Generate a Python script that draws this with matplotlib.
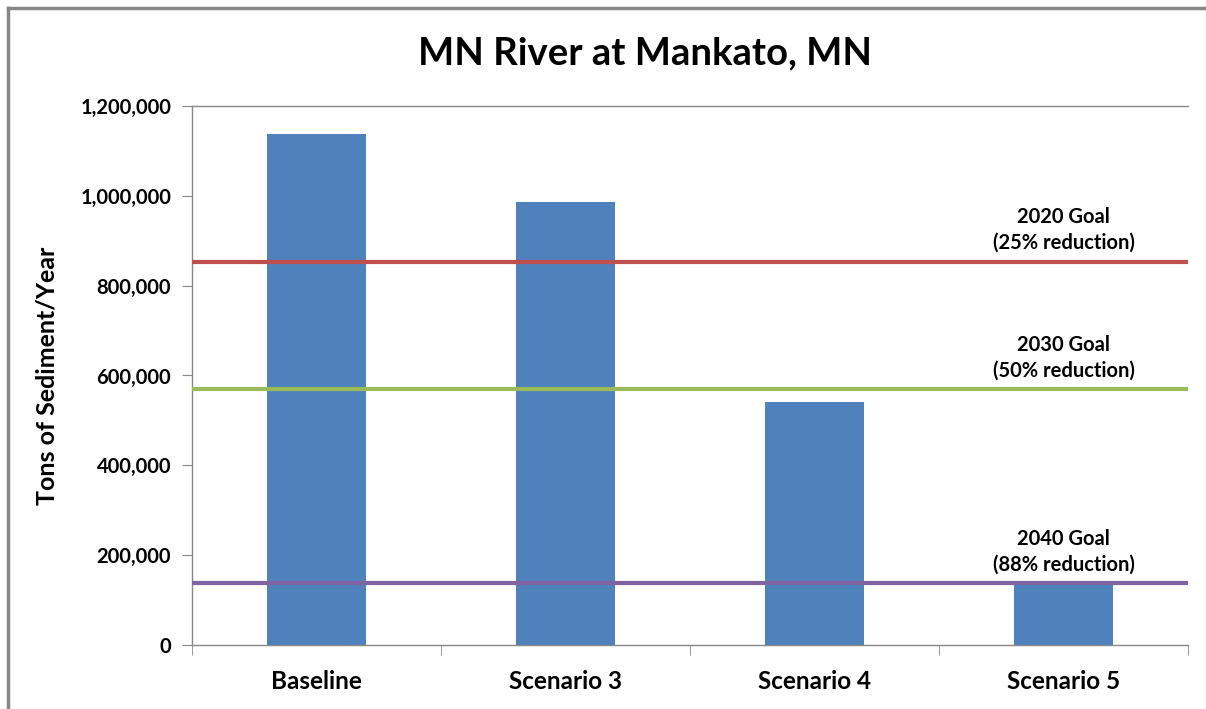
import numpy as np
import matplotlib.pyplot as plt
from matplotlib.lines import Line2D
from matplotlib.ticker import FuncFormatter

plt.rcParams['font.family'] = ['Lato', 'DejaVu Sans']

# 資料
categories = ['Baseline', 'Scenario 3', 'Scenario 4', 'Scenario 5']
sediment = [1137000, 986000, 541000, 136000]
goal_values = [853000, 569000, 137000]
goal_labels = ['2020 Goal\n(25% reduction)', '2030 Goal\n(50% reduction)', '2040 Goal\n(88% reduction)']
goal_colors = ['#C0504D', '#9BBB59', '#8064A2']

fig = plt.figure(figsize=(12.06, 7.09), dpi=100)
ax = fig.add_axes([0.1592, 0.0903, 0.8259, 0.7602])

x = np.arange(len(categories))
ax.bar(x, sediment, width=0.4, color='#4F81BD', zorder=2)

for val, lab, col in zip(goal_values, goal_labels, goal_colors):
    ax.axhline(val, color=col, lw=3, zorder=3)
    ax.text(3, val + 20000, lab, ha='center', va='bottom', fontsize=14.5,
            fontweight='bold', linespacing=1.35)

ax.set_xlim(-0.5, 3.5)
ax.set_ylim(0, 1200000)
ax.set_yticks(np.arange(0, 1200001, 200000))
ax.yaxis.set_major_formatter(FuncFormatter(lambda v, p: f'{int(v):,}'))
ax.set_xticks(x)
ax.set_xticklabels(categories, fontsize=17.5, fontweight='bold')
ax.set_xticks(np.arange(-0.5, 4, 1), minor=True)
ax.tick_params(axis='x', which='major', length=0, pad=18)
ax.tick_params(axis='x', which='minor', length=7, color='#888888', direction='out')
ax.tick_params(axis='y', length=7, color='#888888', direction='out', labelsize=14.5, pad=8)
for t in ax.get_yticklabels():
    t.set_fontweight('bold')

ax.spines['right'].set_visible(False)
for s in ['left', 'bottom', 'top']:
    ax.spines[s].set_color('#888888')
    ax.spines[s].set_linewidth(1)

ax.set_ylabel('Tons of Sediment/Year', fontsize=18, fontweight='bold', labelpad=16)
fig.text(0.535, 0.925, 'MN River at Mankato, MN', ha='center', va='center',
         fontsize=27.5, fontweight='bold')

# 外框
fig.add_artist(Line2D([0.0066, 0.0066], [0, 0.9887], color='#888888', lw=2.5,
                      transform=fig.transFigure))
fig.add_artist(Line2D([0.0066, 1], [0.9887, 0.9887], color='#888888', lw=2.5,
                      transform=fig.transFigure))

fig.savefig('out.png', dpi=100)
